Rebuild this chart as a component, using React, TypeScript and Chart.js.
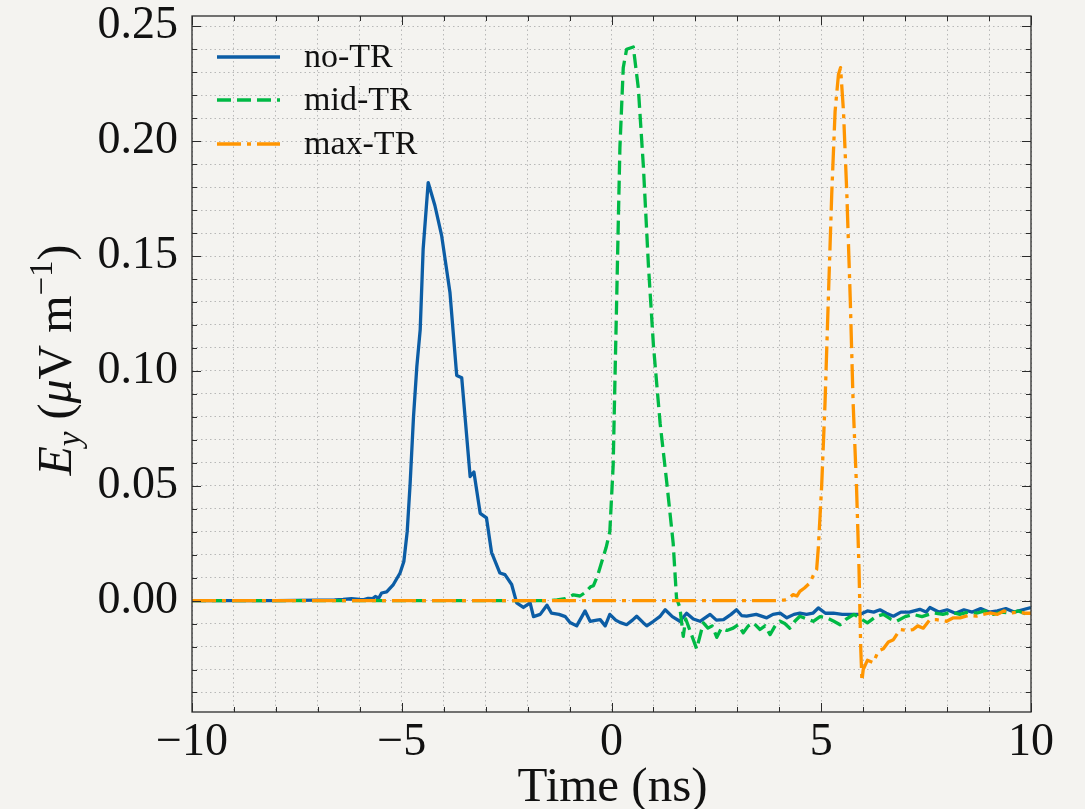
import React, { useEffect, useRef } from "react";
import { Chart, registerables } from "chart.js";

Chart.register(...registerables);

// ---------- data ----------
const noTR_t = [-10, -9, -8, -7, -6.6, -6.4, -6.2, -6.0, -5.9, -5.8, -5.7, -5.63, -5.55, -5.48, -5.36, -5.2, -5.04, -4.95, -4.87, -4.8, -4.72, -4.64, -4.56, -4.49, -4.37, -4.21, -4.05, -3.85, -3.69, -3.57, -3.37, -3.28, -3.13, -2.98, -2.86, -2.66, -2.54, -2.38, -2.26, -2.1, -1.94, -1.86, -1.7, -1.54, -1.43, -1.25, -1.1, -0.99, -0.83, -0.63, -0.51, -0.35, -0.27, -0.15, -0.04, 0.1, 0.2, 0.36, 0.5, 0.6, 0.75, 0.84, 1.0, 1.15, 1.28, 1.45, 1.63, 1.79, 1.95, 2.11, 2.35, 2.5, 2.67, 2.85, 2.98, 3.1, 3.22, 3.45, 3.7, 3.85, 4.02, 4.18, 4.35, 4.49, 4.65, 4.8, 4.93, 5.1, 5.29, 5.5, 5.7, 5.92, 6.1, 6.25, 6.4, 6.55, 6.72, 6.9, 7.1, 7.35, 7.5, 7.59, 7.8, 8.0, 8.2, 8.4, 8.6, 8.8, 9.0, 9.2, 9.4, 9.6, 9.8, 10.0];
const noTR_v = [0, 0, 0, 0.0002, 0.0003, 0.0005, 0.0008, 0.0005, 0.0004, 0.001, 0.0008, 0.0018, 0.001, 0.0033, 0.0038, 0.007, 0.012, 0.017, 0.030, 0.051, 0.080, 0.102, 0.118, 0.153, 0.182, 0.172, 0.159, 0.134, 0.098, 0.097, 0.054, 0.056, 0.038, 0.036, 0.021, 0.012, 0.0113, 0.007, -0.001, -0.003, -0.001, -0.007, -0.006, -0.002, -0.0055, -0.006, -0.007, -0.0095, -0.011, -0.0045, -0.009, -0.0085, -0.0083, -0.011, -0.006, -0.0085, -0.0095, -0.0105, -0.0085, -0.0068, -0.0095, -0.011, -0.009, -0.007, -0.004, -0.007, -0.009, -0.0055, -0.008, -0.009, -0.006, -0.0085, -0.0083, -0.006, -0.004, -0.0065, -0.0068, -0.006, -0.0075, -0.006, -0.0055, -0.0075, -0.006, -0.0055, -0.006, -0.0055, -0.0032, -0.0055, -0.0055, -0.006, -0.006, -0.006, -0.0045, -0.005, -0.004, -0.0055, -0.0068, -0.005, -0.005, -0.0038, -0.005, -0.003, -0.005, -0.004, -0.0055, -0.004, -0.005, -0.0035, -0.005, -0.0045, -0.0035, -0.005, -0.004, -0.003];

const midTR_t = [-10, -1.5, -1.3, -1.1, -0.91, -0.75, -0.63, -0.5, -0.43, -0.33, -0.23, -0.13, -0.04, 0.04, 0.08, 0.12, 0.16, 0.2, 0.28, 0.36, 0.52, 0.64, 0.76, 0.88, 1.0, 1.16, 1.32, 1.47, 1.55, 1.63, 1.71, 1.77, 1.83, 1.93, 2.03, 2.19, 2.3, 2.4, 2.51, 2.62, 2.75, 2.9, 3.02, 3.14, 3.26, 3.38, 3.54, 3.66, 3.78, 3.9, 4.02, 4.13, 4.25, 4.37, 4.49, 4.65, 4.81, 4.97, 5.13, 5.3, 5.45, 5.6, 5.78, 5.95, 6.1, 6.3, 6.48, 6.65, 6.8, 7.0, 7.19, 7.4, 7.67, 7.9, 8.1, 8.3, 8.5, 8.7, 8.9, 9.1, 9.3, 9.5, 9.7, 9.9, 10];
const midTR_v = [0, 0, 0.0003, 0.0008, 0.0025, 0.002, 0.0035, 0.006, 0.0065, 0.011, 0.017, 0.023, 0.030, 0.059, 0.094, 0.128, 0.163, 0.197, 0.232, 0.240, 0.241, 0.223, 0.189, 0.146, 0.111, 0.077, 0.051, 0.025, 0.001, -0.003, -0.0156, -0.008, -0.011, -0.016, -0.021, -0.0097, -0.012, -0.011, -0.016, -0.012, -0.013, -0.012, -0.0105, -0.014, -0.011, -0.0097, -0.0126, -0.011, -0.0148, -0.011, -0.009, -0.010, -0.012, -0.009, -0.0068, -0.008, -0.009, -0.007, -0.0075, -0.009, -0.0105, -0.008, -0.006, -0.008, -0.0097, -0.007, -0.006, -0.008, -0.009, -0.007, -0.006, -0.007, -0.0054, -0.006, -0.005, -0.006, -0.005, -0.0055, -0.0045, -0.006, -0.005, -0.0055, -0.0045, -0.006, -0.005];

const maxTR_t = [-10, 3.9, 4.1, 4.18, 4.33, 4.42, 4.49, 4.6, 4.73, 4.81, 4.89, 4.93, 5.01, 5.09, 5.17, 5.25, 5.33, 5.41, 5.46, 5.53, 5.61, 5.69, 5.76, 5.84, 5.9, 5.94, 5.97, 6.0, 6.1, 6.24, 6.36, 6.48, 6.6, 6.72, 6.88, 7.05, 7.19, 7.3, 7.43, 7.59, 7.75, 7.99, 8.15, 8.31, 8.5, 8.7, 8.85, 9.02, 9.2, 9.35, 9.5, 9.7, 9.85, 10];
const maxTR_v = [0, 0, 0.0002, 0.0004, 0.0026, 0.002, 0.004, 0.0055, 0.0077, 0.011, 0.0135, 0.023, 0.050, 0.086, 0.132, 0.177, 0.213, 0.229, 0.232, 0.213, 0.177, 0.132, 0.086, 0.050, 0.014, -0.02, -0.035, -0.030, -0.026, -0.027, -0.022, -0.021, -0.018, -0.017, -0.0126, -0.013, -0.0126, -0.011, -0.012, -0.0083, -0.0083, -0.009, -0.0075, -0.0075, -0.0065, -0.0068, -0.006, -0.0054, -0.006, -0.0045, -0.0054, -0.005, -0.0055, -0.0055];

const seriesNames = ["no-TR", "mid-TR", "max-TR"];
const seriesColors = ["#0C5DA5", "#00B945", "#FF9500"];
const seriesDashes: number[][] = [[], [14, 6], [24, 6, 4, 6]];

const xMin = -10;
const xMax = 10;
const yMin = -0.0485;
const yMax = 0.2545;
const xTitle = "Time (ns)";

const FONT = '"Liberation Serif", "Times New Roman", serif';
const BG = "#f4f3f0";
const LW = 3.3;

const zip = (t: number[], v: number[]) => t.map((x, i) => ({ x, y: v[i] }));

const isMajorX = (v: number) => Math.abs(v / 5 - Math.round(v / 5)) < 1e-6;
const isMajorY = (v: number) => Math.abs(v / 0.05 - Math.round(v / 0.05)) < 1e-6;

const decorPlugin = {
  id: "decor",
  afterDatasetsDraw(chart: any) {
    const { ctx, chartArea: a, scales } = chart;
    const xs = scales.x;
    const ys = scales.y;
    ctx.save();
    ctx.strokeStyle = "#2b2b2b";
    ctx.lineWidth = 1;
    xs.ticks.forEach((t: any) => {
      const px = Math.round(xs.getPixelForValue(t.value)) + 0.5;
      const len = isMajorX(t.value) ? 9 : 5;
      ctx.beginPath();
      ctx.moveTo(px, a.bottom);
      ctx.lineTo(px, a.bottom - len);
      ctx.moveTo(px, a.top);
      ctx.lineTo(px, a.top + len);
      ctx.stroke();
    });
    ys.ticks.forEach((t: any) => {
      const py = Math.round(ys.getPixelForValue(t.value)) + 0.5;
      const len = isMajorY(t.value) ? 9 : 5;
      ctx.beginPath();
      ctx.moveTo(a.left, py);
      ctx.lineTo(a.left + len, py);
      ctx.moveTo(a.right, py);
      ctx.lineTo(a.right - len, py);
      ctx.stroke();
    });
    ctx.lineWidth = 1.3;
    ctx.strokeRect(a.left, a.top, a.right - a.left, a.bottom - a.top);
    ctx.restore();
  },
  afterDraw(chart: any) {
    const { ctx, chartArea: a } = chart;
    ctx.save();
    ctx.fillStyle = "#111";
    // legend
    const rows = [57, 100, 144];
    seriesNames.forEach((name, i) => {
      ctx.save();
      ctx.strokeStyle = seriesColors[i];
      ctx.lineWidth = LW;
      ctx.setLineDash(seriesDashes[i]);
      ctx.beginPath();
      ctx.moveTo(217, rows[i]);
      ctx.lineTo(280, rows[i]);
      ctx.stroke();
      ctx.restore();
      ctx.font = `34px ${FONT}`;
      ctx.textBaseline = "middle";
      ctx.textAlign = "left";
      ctx.fillText(name, 304, rows[i] + 1);
    });
    // x title
    ctx.font = `49px ${FONT}`;
    ctx.textAlign = "center";
    ctx.textBaseline = "alphabetic";
    ctx.fillText(xTitle, (a.left + a.right) / 2 + 1, 801);
    // y title: E_y (μV m^-1)
    const big = 48;
    const small = 33;
    const parts = [
      { s: "E", f: `italic ${big}px ${FONT}`, dy: 0 },
      { s: "y", f: `italic ${small}px ${FONT}`, dy: 9 },
      { s: " (", f: `${big}px ${FONT}`, dy: 0 },
      { s: "\u03bc", f: `italic ${big}px ${FONT}`, dy: 0 },
      { s: "V m", f: `${big}px ${FONT}`, dy: 0 },
      { s: "\u22121", f: `${small}px ${FONT}`, dy: -19 },
      { s: ")", f: `${big}px ${FONT}`, dy: 0 },
    ];
    let total = 0;
    const widths = parts.map((p) => {
      ctx.font = p.f;
      const w = ctx.measureText(p.s).width;
      total += w;
      return w;
    });
    ctx.translate(71, 360);
    ctx.rotate(-Math.PI / 2);
    ctx.textAlign = "left";
    let x = -total / 2;
    parts.forEach((p, i) => {
      ctx.font = p.f;
      ctx.fillText(p.s, x, p.dy);
      x += widths[i];
    });
    ctx.restore();
  },
};

export default function App() {
  const ref = useRef<HTMLCanvasElement | null>(null);
  useEffect(() => {
    if (!ref.current) return;
    const series = [zip(noTR_t, noTR_v), zip(midTR_t, midTR_v), zip(maxTR_t, maxTR_v)];
    const chart = new Chart(ref.current, {
      type: "line",
      data: {
        datasets: series.map((d, i) => ({
          label: seriesNames[i],
          data: d,
          borderColor: seriesColors[i],
          backgroundColor: seriesColors[i],
          borderWidth: LW,
          borderDash: seriesDashes[i],
          borderJoinStyle: "round" as const,
          pointRadius: 0,
          tension: 0,
          fill: false,
          order: 3 - i,
        })),
      },
      options: {
        animation: false,
        responsive: false,
        maintainAspectRatio: false,
        events: [],
        layout: { padding: { top: 16, right: 54, left: 0, bottom: 0 } },
        plugins: { legend: { display: false }, tooltip: { enabled: false } },
        scales: {
          x: {
            type: "linear",
            min: xMin,
            max: xMax,
            afterFit: (s: any) => {
              s.height = 97;
              s.paddingLeft = 0;
              s.paddingRight = 0;
            },
            ticks: {
              stepSize: 1,
              autoSkip: false,
              maxRotation: 0,
              includeBounds: false,
              padding: 3,
              color: "#111",
              font: { family: FONT, size: 46 },
              callback: (v: any) => {
                const n = Number(v);
                if (!isMajorX(n)) return "";
                const r = Math.round(n);
                return r < 0 ? "\u2212" + Math.abs(r) : String(r);
              },
            },
            grid: { color: "#b8b8b8", lineWidth: 1, drawTicks: false },
            border: { display: false, dash: [1.5, 3] },
          },
          y: {
            type: "linear",
            min: yMin,
            max: yMax,
            afterFit: (s: any) => {
              s.width = 192;
              s.paddingTop = 0;
              s.paddingBottom = 0;
            },
            ticks: {
              stepSize: 0.01,
              autoSkip: false,
              includeBounds: false,
              padding: 14,
              color: "#111",
              font: { family: FONT, size: 46 },
              callback: (v: any) => {
                const n = Number(v);
                return isMajorY(n) ? n.toFixed(2) : "";
              },
            },
            grid: { color: "#b8b8b8", lineWidth: 1, drawTicks: false },
            border: { display: false, dash: [1.5, 3] },
          },
        },
      },
      plugins: [decorPlugin],
    });
    return () => chart.destroy();
  }, []);
  return (
    <div style={{ position: "fixed", left: 0, top: 0, width: 1085, height: 809, background: BG }}>
      <canvas ref={ref} width={1085} height={809} style={{ display: "block", width: 1085, height: 809 }} />
    </div>
  );
}
